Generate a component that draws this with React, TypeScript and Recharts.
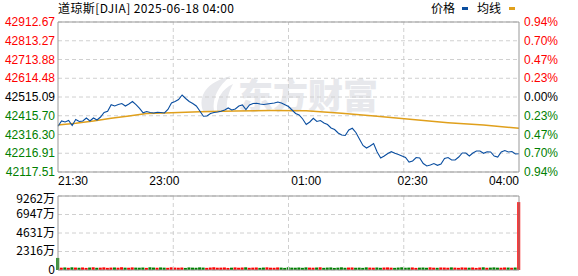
import {
  Bar,
  CartesianGrid,
  Cell,
  ComposedChart,
  Line,
  ReferenceLine,
  XAxis,
  YAxis,
} from "recharts";

const prevClose = 42515.09;

const priceTicks = [
  42117.51, 42216.91, 42316.3, 42415.7, 42515.09, 42614.48, 42713.88, 42813.27, 42912.67,
];
const pctLabels = ["0.94%", "0.70%", "0.47%", "0.23%", "0.00%", "0.23%", "0.47%", "0.70%", "0.94%"];

const timeTicks = [0, 90, 210, 300, 390];
const timeLabels = ["21:30", "23:00", "01:00", "02:30", "04:00"];
const gridMinutes = [97.5, 195, 292.5];

const volTicks = [0, 2316, 4631, 6947, 9262];
const volLabels = ["0", "2316万", "4631万", "6947万", "9262万"];

// one point every 3 minutes from 21:30
const prices = [
  42359.8, 42387.9, 42382.6, 42390.5, 42364.0, 42395.8, 42385.2, 42387.9, 42403.8, 42387.9,
  42403.8, 42393.2, 42409.1, 42432.9, 42439.3, 42474.3, 42467.4, 42475.3, 42480.6, 42467.4,
  42478.0, 42491.2, 42474.3, 42455.2, 42431.3, 42438.2, 42432.9, 42430.3, 42434.0, 42432.9,
  42430.3, 42448.8, 42483.3, 42491.2, 42501.8, 42525.7, 42507.1, 42491.2, 42480.6, 42467.4,
  42440.9, 42412.8, 42414.4, 42427.6, 42432.9, 42435.6, 42439.3, 42446.2, 42456.8, 42446.2,
  42451.5, 42467.4, 42472.7, 42448.8, 42472.7, 42480.6, 42481.7, 42478.0, 42475.3, 42478.0,
  42480.6, 42483.3, 42488.6, 42483.3, 42474.3, 42464.7, 42446.2, 42427.6, 42419.7, 42398.5,
  42369.3, 42382.6, 42402.2, 42385.2, 42390.5, 42377.3, 42369.3, 42350.8, 42342.8, 42324.3,
  42313.7, 42311.0, 42340.2, 42349.2, 42326.9, 42292.5, 42258.0, 42244.7, 42255.3, 42268.6,
  42223.5, 42191.7, 42202.3, 42215.6, 42225.1, 42216.7, 42210.3, 42202.3, 42194.4, 42170.5,
  42175.8, 42194.4, 42191.7, 42162.6, 42149.3, 42154.6, 42162.6, 42153.0, 42159.9, 42189.1,
  42194.4, 42181.1, 42181.1, 42197.0, 42218.2, 42218.2, 42202.3, 42218.2, 42228.8, 42228.8,
  42216.7, 42225.1, 42223.5, 42202.3, 42197.0, 42223.5, 42231.5, 42223.5, 42226.2, 42212.9,
  42214.5,
];

// 均线 read at these minutes after 21:30
const avgMinutes = [0, 15, 30, 45, 60, 75, 90, 120, 150, 180, 210, 240, 270, 300, 330, 360, 390];
const avgValues = [
  42367.2, 42375.7, 42387.9, 42402.2, 42414.4, 42427.6, 42430.3, 42437.2, 42441.4, 42443.5,
  42441.9, 42429.2, 42412.8, 42395.3, 42378.8, 42366.1, 42349.2,
];

// volume in 万
const volumes = [
  1510,
  290, 320, 275, 335, 305, 284, 318, 262, 310, 340,
  278, 296, 330, 268, 302, 315, 286, 345, 292, 270,
  326, 298, 288, 312, 265, 338, 306, 281, 320, 294,
  272, 334, 300, 284, 310, 260, 322, 296, 279, 328,
  304, 268, 308, 342, 287, 298, 318, 258, 292, 324,
  283, 311, 336, 276, 297, 315, 266, 305, 331, 290,
  280, 319, 301, 264, 340, 295, 285, 313, 273, 327,
  299, 287, 308, 337, 270, 303, 321, 261, 293, 333,
  278, 306, 317, 282, 297, 267, 329, 301, 288, 312,
  275, 309, 323, 294, 269, 304, 336, 284, 299, 319,
  263, 296, 311, 280, 331, 291, 274, 315, 306, 283,
  325, 297, 271, 321, 302, 288, 313, 260, 308, 338,
  279, 299, 328, 293, 285, 317, 304, 266, 310,
  8500,
];

const UP = "#ff0000";
const DOWN = "#008000";
const PRICE_COLOR = "#0a4ea0";
const AVG_COLOR = "#e0a01c";
const GRID = "#d0d0d0";
const BORDER = "#999999";
const MARK = "#e7e8ec";
const FONT = "'Liberation Sans', Arial, sans-serif";
const CJK = "'Noto Sans CJK SC', sans-serif";

const data = prices.map((price, i) => {
  const t = i * 3;
  const a = avgMinutes.indexOf(t);
  return { t, price, avg: a >= 0 ? avgValues[a] : null };
});

const volData = volumes.map((vol, i) => {
  const prev = i === 0 ? prevClose : prices[i - 1];
  return { t: i * 3, vol, up: prices[i] >= prev };
});

function colorFor(v: number) {
  if (Math.abs(v - prevClose) < 0.01) return "#000";
  return v > prevClose ? UP : DOWN;
}

function PriceTick({ x, y, payload }: any) {
  return (
    <text x={x} y={y} dy={4} textAnchor="end" fill={colorFor(payload.value)} fontSize={12} fontFamily={FONT}>
      {payload.value.toFixed(2)}
    </text>
  );
}

function PctTick({ x, y, payload, index }: any) {
  return (
    <text x={x} y={y} dy={4} textAnchor="start" fill={colorFor(payload.value)} fontSize={12} fontFamily={FONT}>
      {pctLabels[index]}
    </text>
  );
}

function TimeTick({ x, y, payload, index }: any) {
  const anchor = index === 0 ? "start" : index === timeTicks.length - 1 ? "end" : "middle";
  return (
    <text x={x} y={y} dy={11} textAnchor={anchor} fill="#000" fontSize={12} fontFamily={FONT}>
      {timeLabels[timeTicks.indexOf(payload.value)]}
    </text>
  );
}

function VolTick({ x, y, payload, index }: any) {
  const top = index === volTicks.length - 1;
  return (
    <text x={x} y={y} dy={top ? 7 : 4} textAnchor="end" fill="#000" fontSize={12} fontFamily={CJK}>
      {volLabels[volTicks.indexOf(payload.value)]}
    </text>
  );
}

export default function App() {
  return (
    <div
      style={{
        position: "absolute",
        left: 0,
        top: 0,
        width: 578,
        height: 276,
        background: "#fff",
        overflow: "hidden",
      }}
    >
      {/* watermark */}
      <svg width={578} height={276} style={{ position: "absolute", left: 0, top: 0 }}>
        <path d="M203 111 C198 96 206 82 231 76 C218 86 212 98 214 111 Z" fill={MARK} />
        <path d="M217 111 C216 99 222 89 233 84 C228 93 226 102 227 111 Z" fill={MARK} />
      </svg>
      <div
        style={{
          position: "absolute",
          left: 238,
          top: 76,
          fontFamily: CJK,
          fontWeight: 900,
          fontSize: 35,
          lineHeight: "35px",
          color: MARK,
          whiteSpace: "pre",
        }}
      >
        东方财富
      </div>
      <div
        style={{
          position: "absolute",
          left: 58,
          top: 0,
          fontFamily: CJK,
          fontSize: 12,
          lineHeight: "16px",
          letterSpacing: 0.4,
          color: "#000",
          whiteSpace: "pre",
        }}
      >
        道琼斯[DJIA] 2025-06-18 04:00
      </div>
      <div
        style={{
          position: "absolute",
          left: 431,
          top: 0,
          fontFamily: CJK,
          fontSize: 12,
          lineHeight: "16px",
          color: "#000",
          display: "flex",
          alignItems: "center",
        }}
      >
        <span>价格</span>
        <span style={{ display: "inline-block", width: 6, height: 3, background: PRICE_COLOR, margin: "0 9px 0 7px" }} />
        <span>均线</span>
        <span style={{ display: "inline-block", width: 6, height: 3, background: AVG_COLOR, marginLeft: 8 }} />
      </div>

      <div style={{ position: "absolute", left: 0, top: 0 }}>
        <ComposedChart width={578} height={190} data={data} margin={{ top: 22, right: 0, left: 0, bottom: 0 }}>
          <CartesianGrid yAxisId="left" vertical={false} stroke={GRID} strokeDasharray="4 3" />
          {gridMinutes.map((m) => (
            <ReferenceLine key={m} yAxisId="left" x={m} stroke={GRID} strokeDasharray="4 3" />
          ))}
          <XAxis
            dataKey="t"
            type="number"
            domain={[0, 390]}
            ticks={timeTicks}
            tick={<TimeTick />}
            tickLine={false}
            tickSize={0}
            tickMargin={2}
            axisLine={{ stroke: BORDER }}
            height={18}
            interval={0}
          />
          <YAxis
            yAxisId="left"
            domain={[priceTicks[0], priceTicks[priceTicks.length - 1]]}
            ticks={priceTicks}
            tick={<PriceTick />}
            tickLine={false}
            tickSize={0}
            tickMargin={3}
            axisLine={{ stroke: BORDER }}
            width={58}
            interval={0}
            allowDataOverflow
          />
          <YAxis
            yAxisId="right"
            orientation="right"
            domain={[priceTicks[0], priceTicks[priceTicks.length - 1]]}
            ticks={priceTicks}
            tick={<PctTick />}
            tickLine={false}
            tickSize={0}
            tickMargin={5}
            axisLine={{ stroke: BORDER }}
            width={59}
            interval={0}
            allowDataOverflow
          />
          <ReferenceLine yAxisId="left" y={priceTicks[priceTicks.length - 1]} stroke={BORDER} />
          <Line
            yAxisId="right"
            dataKey="avg"
            stroke={AVG_COLOR}
            strokeWidth={1.5}
            dot={false}
            connectNulls
            isAnimationActive={false}
          />
          <Line
            yAxisId="left"
            dataKey="price"
            type="linear"
            stroke={PRICE_COLOR}
            strokeWidth={1.1}
            dot={false}
            isAnimationActive={false}
          />
        </ComposedChart>
      </div>

      <div style={{ position: "absolute", left: 0, top: 190 }}>
        <ComposedChart width={578} height={86} data={volData} margin={{ top: 6, right: 0, left: 0, bottom: 6 }}>
          <CartesianGrid yAxisId="v" vertical={false} stroke={GRID} strokeDasharray="4 3" />
          {gridMinutes.map((m) => (
            <ReferenceLine key={m} yAxisId="v" x={m} stroke={GRID} strokeDasharray="4 3" />
          ))}
          <XAxis dataKey="t" type="number" domain={[0, 390]} hide />
          <YAxis
            yAxisId="v"
            domain={[0, 9262]}
            ticks={volTicks}
            tick={<VolTick />}
            tickLine={false}
            tickSize={0}
            tickMargin={3}
            axisLine={{ stroke: BORDER }}
            width={58}
            interval={0}
          />
          <YAxis
            yAxisId="vr"
            orientation="right"
            domain={[0, 9262]}
            tick={false}
            tickLine={false}
            axisLine={{ stroke: BORDER }}
            width={59}
          />
          <ReferenceLine yAxisId="v" y={9262} stroke={BORDER} />
          <ReferenceLine yAxisId="v" y={0} stroke={BORDER} />
          <Bar yAxisId="v" dataKey="vol" barSize={3} isAnimationActive={false}>
            {volData.map((d) => (
              <Cell key={d.t} fill={d.up ? UP : DOWN} />
            ))}
          </Bar>
        </ComposedChart>
      </div>
    </div>
  );
}
